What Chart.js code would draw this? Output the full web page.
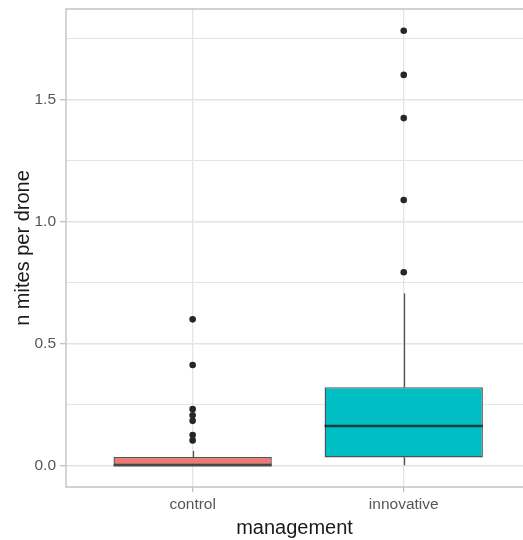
<!DOCTYPE html>
<html>
<head>
<meta charset="utf-8">
<title>n mites per drone by management</title>
<script src="https://cdn.jsdelivr.net/npm/chart.js@4.4.1/dist/chart.umd.min.js"></script>
<style>
  html, body { margin: 0; padding: 0; background: #ffffff; overflow: hidden; }
  canvas { display: block; }
</style>
</head>
<body>
<canvas id="chart" width="523" height="540"></canvas>
<script>
// Groups on the x axis
const categories = ['control', 'innovative'];
const categoryPositions = [1, 2];

// Box-plot summary per group
const q1 = [0, 0.032];
const median = [0, 0.161];
const q3 = [0.034, 0.320];
const whiskerLow = [0, 0];
const whiskerHigh = [0.059, 0.704];

// Outlying observations per group
const outliersControl = [0.598, 0.411, 0.230, 0.205, 0.182, 0.124, 0.102];
const outliersInnovative = [0.791, 1.087, 1.423, 1.600, 1.781];

// Axis tick values (major labelled, minor unlabelled)
const yMajorTicks = [0, 0.5, 1.0, 1.5];
const yMinorTicks = [0.25, 0.75, 1.25, 1.75];

// Visible x range: discrete positions padded by 0.6; the right side runs off the page
const xMin = 0.4;
const xMax = 2.565;

const fillColors = ['#F8766D', '#00BFC4'];
const outlineColor = 'rgba(15, 15, 15, 0.72)';
const FONT = '"Liberation Sans", Arial, Helvetica, sans-serif';

const yTickValues = yMajorTicks.concat(yMinorTicks).sort((a, b) => a - b);
const isMajor = v => yMajorTicks.some(m => Math.abs(m - v) < 1e-9);

// ggplot-style 5% expansion of the continuous range
const dataMin = 0, dataMax = Math.max(...outliersInnovative);
const pad = (dataMax - dataMin) * 0.05;

const boxData = categories.map((c, i) => ({ x: categoryPositions[i], y: [q1[i], q3[i]] }));
const outlierData = [];
outliersControl.forEach(v => outlierData.push({ x: categoryPositions[0], y: v }));
outliersInnovative.forEach(v => outlierData.push({ x: categoryPositions[1], y: v }));

// Whiskers behind the boxes, medians and the panel border on top
const boxPlotParts = {
  id: 'boxPlotParts',
  beforeDatasetsDraw(chart) {
    const ys = chart.scales.y;
    const meta = chart.getDatasetMeta(1);
    const ctx = chart.ctx;
    ctx.save();
    ctx.strokeStyle = outlineColor;
    ctx.lineWidth = 1.3;
    meta.data.forEach((bar, i) => {
      const x = Math.round(bar.x) + 0.5;
      ctx.beginPath();
      ctx.moveTo(x, ys.getPixelForValue(q3[i]));
      ctx.lineTo(x, ys.getPixelForValue(whiskerHigh[i]));
      ctx.moveTo(x, ys.getPixelForValue(q1[i]));
      ctx.lineTo(x, ys.getPixelForValue(whiskerLow[i]));
      ctx.stroke();
    });
    ctx.restore();
  },
  afterDatasetDraw(chart, args) {
    if (args.index !== 1) return;
    const ys = chart.scales.y;
    const meta = chart.getDatasetMeta(1);
    const ctx = chart.ctx;
    ctx.save();
    ctx.strokeStyle = outlineColor;
    ctx.lineWidth = 2.6;
    meta.data.forEach((bar, i) => {
      const y = ys.getPixelForValue(median[i]);
      ctx.beginPath();
      ctx.moveTo(bar.x - bar.width / 2, y);
      ctx.lineTo(bar.x + bar.width / 2, y);
      ctx.stroke();
    });
    ctx.restore();
  },
  afterDraw(chart) {
    const a = chart.chartArea;
    const ctx = chart.ctx;
    ctx.save();
    ctx.strokeStyle = '#c4c4c4';
    ctx.lineWidth = 1.4;
    ctx.beginPath();
    ctx.moveTo(chart.width, a.top);
    ctx.lineTo(a.left, a.top);
    ctx.lineTo(a.left, a.bottom);
    ctx.lineTo(chart.width, a.bottom);
    ctx.stroke();
    ctx.restore();
  }
};

new Chart(document.getElementById('chart'), {
  data: {
    datasets: [
      {
        type: 'scatter',
        label: 'outliers',
        data: outlierData,
        pointRadius: 3.3,
        pointHoverRadius: 3.3,
        pointBackgroundColor: '#262626',
        pointBorderWidth: 0,
        order: 0
      },
      {
        type: 'bar',
        label: 'boxes',
        data: boxData,
        backgroundColor: fillColors,
        borderColor: outlineColor,
        borderWidth: 1.4,
        borderSkipped: false,
        barPercentage: 0.75,
        categoryPercentage: 1,
        order: 1
      }
    ]
  },
  options: {
    responsive: false,
    animation: false,
    events: [],
    layout: { autoPadding: false, padding: { top: 9, right: 0, bottom: 0, left: 0 } },
    plugins: {
      legend: { display: false },
      tooltip: { enabled: false }
    },
    scales: {
      x: {
        type: 'linear',
        min: xMin,
        max: xMax,
        offset: false,
        afterBuildTicks: s => { s.ticks = categoryPositions.map(v => ({ value: v })); },
        afterFit: s => { s.height = 53; s.paddingLeft = 0; s.paddingRight = 0; },
        ticks: {
          callback: v => categories[categoryPositions.indexOf(v)],
          color: '#575757',
          font: { family: FONT, size: 15.5 },
          padding: 3,
          maxRotation: 0,
          autoSkip: false
        },
        grid: {
          offset: false,
          color: '#e4e4e4',
          lineWidth: 1.3,
          tickLength: 5,
          tickColor: '#bdbdbd',
          tickWidth: 1.2
        },
        border: { display: false },
        title: {
          display: true,
          text: 'management',
          color: '#1a1a1a',
          font: { family: FONT, size: 20 },
          padding: { top: 0, bottom: 0 }
        }
      },
      y: {
        type: 'linear',
        min: dataMin - pad,
        max: dataMax + pad,
        afterBuildTicks: s => { s.ticks = yTickValues.map(v => ({ value: v })); },
        afterFit: s => { s.width = 66; s.paddingTop = 0; s.paddingBottom = 0; },
        ticks: {
          callback: v => (isMajor(v) ? v.toFixed(1) : ''),
          color: '#575757',
          font: { family: FONT, size: 15.5 },
          padding: 4,
          autoSkip: false
        },
        grid: {
          color: '#e4e4e4',
          lineWidth: ctx => (ctx.tick && isMajor(ctx.tick.value) ? 1.4 : 1.0),
          tickLength: 6,
          tickColor: ctx => (ctx.tick && isMajor(ctx.tick.value) ? '#bdbdbd' : 'rgba(0,0,0,0)'),
          tickWidth: 1.2
        },
        border: { display: false },
        title: {
          display: true,
          text: 'n mites per drone',
          color: '#1a1a1a',
          font: { family: FONT, size: 20 },
          padding: { top: 11, bottom: 0 }
        }
      }
    }
  },
  plugins: [boxPlotParts]
});
</script>
</body>
</html>
